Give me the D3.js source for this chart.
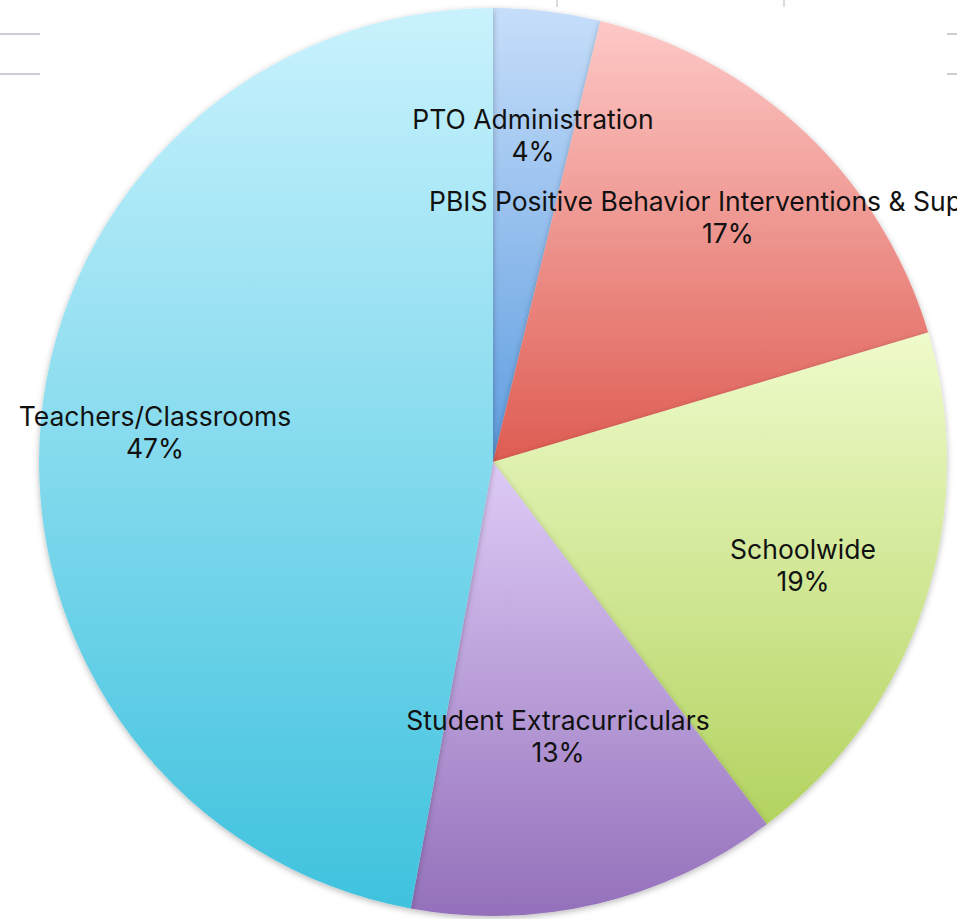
<!DOCTYPE html>
<html><head><meta charset="utf-8">
<script src="https://cdn.jsdelivr.net/npm/d3@7"></script>
<style>html,body{margin:0;padding:0;background:#fff;overflow:hidden}svg{display:block}</style>
</head><body>
<script>
const categories = ["PTO Administration", "PBIS Positive Behavior Interventions & Supports", "Schoolwide", "Student Extracurriculars", "Teachers/Classrooms"];
const values = [3.8, 16.6, 19.3, 13.2, 47.1];
const percentLabels = ["4%", "17%", "19%", "13%", "47%"];
const colorTop = ["#c6defa", "#fdc9c7", "#effbcb", "#decbf6", "#c9f2fd"];
const colorBottom = ["#5f9de0", "#de5c52", "#b3d360", "#9470bb", "#3fc2de"];

const W = 957, H = 919;
const cx = 493, cy = 462, R = 454;
const svg = d3.select("body").append("svg").attr("width", W).attr("height", H);
const defs = svg.append("defs");

// background grid remnants
const grid = svg.append("g").attr("stroke", "#d0ccd6").attr("stroke-width", 2);
[[0, 40, 34], [0, 40, 74], [947, 957, 34], [947, 957, 74]].forEach(([x1, x2, y]) =>
  grid.append("line").attr("x1", x1).attr("x2", x2).attr("y1", y).attr("y2", y));
[557, 784].forEach(x => svg.append("line").attr("x1", x).attr("x2", x).attr("y1", 0).attr("y2", 7)
  .attr("stroke", "#d0ccd6").attr("stroke-width", 1.5));

const f = defs.append("filter").attr("id", "sh").attr("x", "-10%").attr("y", "-10%").attr("width", "120%").attr("height", "120%");
f.append("feDropShadow").attr("dx", 0).attr("dy", 2).attr("stdDeviation", 3).attr("flood-color", "#000").attr("flood-opacity", 0.28);

categories.forEach((c, i) => {
  const g = defs.append("linearGradient").attr("id", "g" + i).attr("x1", 0).attr("y1", 0).attr("x2", 0).attr("y2", 1);
  g.append("stop").attr("offset", "0%").attr("stop-color", colorTop[i]);
  g.append("stop").attr("offset", "100%").attr("stop-color", colorBottom[i]);
});

const pie = d3.pie().sort(null).value(d => d)(values);
const arc = d3.arc().innerRadius(0).outerRadius(R);
const gp = svg.append("g").attr("transform", `translate(${cx},${cy})`);
gp.selectAll("path").data(pie).join("path")
  .attr("d", arc)
  .attr("fill", (d, i) => `url(#g${i})`)
  .attr("filter", "url(#sh)");

// labels
const labelPos = [[533, 119], [728, 201], [803, 549], [558, 720], [155, 416]];
const tg = svg.append("g").attr("font-family", "Inter, 'Noto Sans', sans-serif").attr("font-size", 26.5).attr("fill", "#111").attr("text-anchor", "middle");
categories.forEach((c, i) => {
  const t = tg.append("text").attr("x", labelPos[i][0]).attr("y", labelPos[i][1]).attr("dominant-baseline", "central");
  t.append("tspan").attr("x", labelPos[i][0]).text(c);
  t.append("tspan").attr("x", labelPos[i][0]).attr("dy", 32).text(percentLabels[i]);
});
</script>
</body></html>
